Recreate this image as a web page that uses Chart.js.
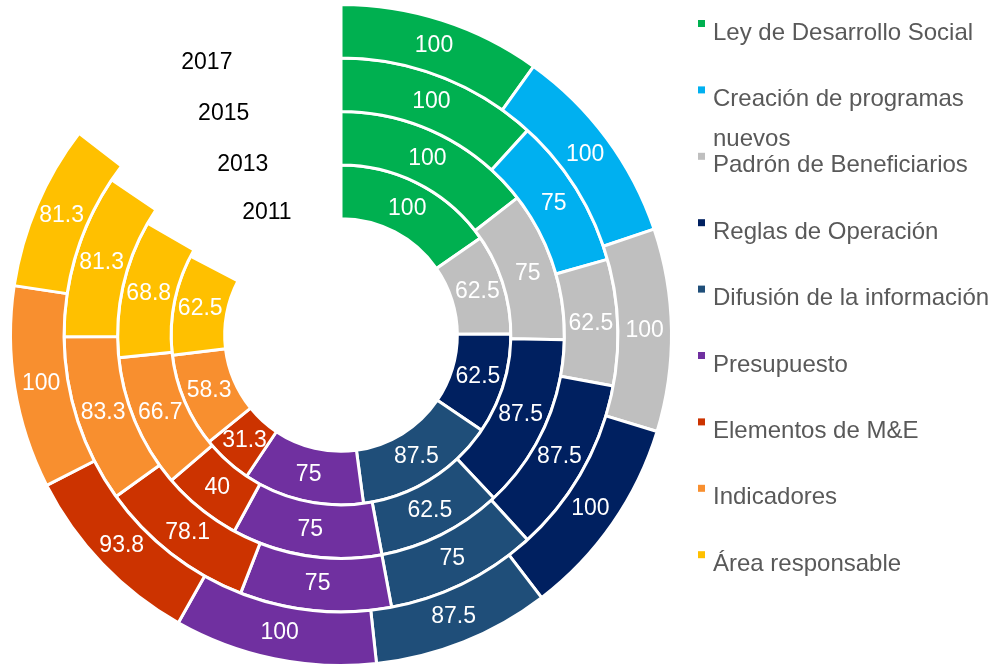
<!DOCTYPE html>
<html>
<head>
<meta charset="utf-8">
<script src="https://cdn.jsdelivr.net/npm/chart.js@4.4.1/dist/chart.umd.min.js"></script>
<style>
  html, body { margin: 0; padding: 0; background: #fff; }
  #wrap { width: 995px; height: 667px; }
</style>
</head>
<body>
<div id="wrap"><canvas id="chart" width="995" height="667"></canvas></div>
<script>
/* ── Data ── */
const categories = [
  'Ley de Desarrollo Social',
  'Creación de programas nuevos',
  'Padrón de Beneficiarios',
  'Reglas de Operación',
  'Difusión de la información',
  'Presupuesto',
  'Elementos de M&E',
  'Indicadores',
  'Área responsable'
];
const years = ['2017', '2015', '2013', '2011'];   // outer ring first
const v2017 = [100, 100, 100, 100, 87.5, 100, 93.8, 100, 81.3];
const v2015 = [100, 75, 62.5, 87.5, 75, 75, 78.1, 83.3, 81.3];
const v2013 = [100, 0, 75, 87.5, 62.5, 75, 40, 66.7, 68.8];
const v2011 = [100, 0, 62.5, 62.5, 87.5, 75, 31.3, 58.3, 62.5];
// hidden remainder of each ring (the empty wedge where the year sits)
const gaps = [147, 132, 115, 113];

const colors = ['#00B050', '#00B0F0', '#BFBFBF', '#002060', '#1F4E79',
                '#7030A0', '#CC3300', '#F88F2F', '#FFC000'];

const series = [v2017, v2015, v2013, v2011];
const FONT = '"Liberation Sans", Arial, sans-serif';

/* ── Labels on arcs + year in the empty wedge ── */
const ringLabels = {
  id: 'ringLabels',
  afterDatasetsDraw(chart) {
    const ctx = chart.ctx;
    ctx.save();
    ctx.font = '23px ' + FONT;
    ctx.textAlign = 'center';
    ctx.textBaseline = 'middle';
    chart.data.datasets.forEach((ds, di) => {
      chart.getDatasetMeta(di).data.forEach((arc, j) => {
        const p = arc.getCenterPoint();
        if (j === categories.length) {
          ctx.fillStyle = '#000';
          ctx.fillText(ds.label, p.x, p.y);
          return;
        }
        const v = ds.data[j];
        if (!v) return;
        ctx.fillStyle = '#fff';
        ctx.fillText(String(v), p.x, p.y);
      });
    });
    ctx.restore();
  }
};

/* ── Legend on the right ── */
const sideLegend = {
  id: 'sideLegend',
  afterDraw(chart) {
    const ctx = chart.ctx;
    const x0 = 698, tx = 713, top = 33, step = 66.4, maxW = 278;
    ctx.save();
    ctx.font = '24px ' + FONT;
    ctx.textBaseline = 'middle';
    ctx.textAlign = 'left';
    categories.forEach((name, i) => {
      const y = top + step * i;
      ctx.fillStyle = colors[i];
      ctx.fillRect(x0, y - 13, 7, 7);
      // simple word wrap
      const lines = [];
      let line = '';
      name.split(' ').forEach(w => {
        const t = line ? line + ' ' + w : w;
        if (ctx.measureText(t).width > maxW && line) { lines.push(line); line = w; }
        else line = t;
      });
      lines.push(line);
      ctx.fillStyle = '#595959';
      lines.forEach((l, k) => ctx.fillText(l, tx, y + k * 40));
    });
    ctx.restore();
  }
};

new Chart(document.getElementById('chart'), {
  type: 'doughnut',
  data: {
    labels: [...categories, ''],
    datasets: years.map((y, i) => ({
      label: y,
      data: [...series[i], gaps[i]],
      backgroundColor: [...colors, 'rgba(0,0,0,0)'],
      borderColor: '#fff',
      borderWidth: ctx => ctx.dataIndex === categories.length ? 0 : 3
    }))
  },
  options: {
    responsive: false,
    animation: false,
    devicePixelRatio: 1,
    cutout: '35.2%',
    layout: { padding: { left: 9, top: 3, right: 322, bottom: 0 } },
    plugins: { legend: { display: false }, tooltip: { enabled: false } }
  },
  plugins: [ringLabels, sideLegend]
});
</script>
</body>
</html>
